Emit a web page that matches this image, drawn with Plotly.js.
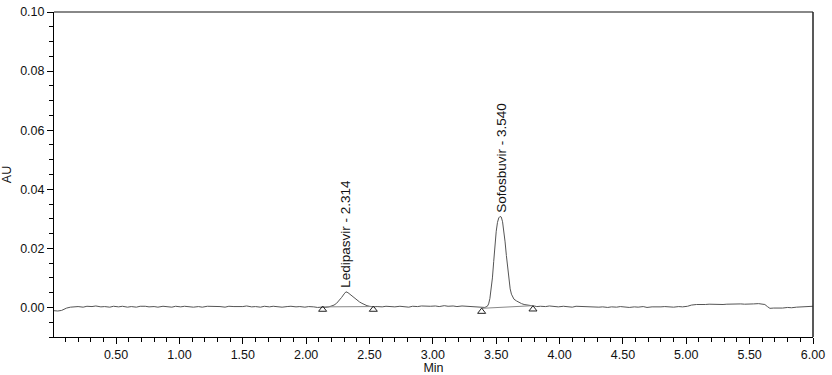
<!DOCTYPE html>
<html>
<head>
<meta charset="utf-8">
<script src="https://cdn.plot.ly/plotly-3.0.1.min.js"></script>
<style>html,body{margin:0;padding:0;background:#fff;}#chart{width:832px;height:375px;}</style>
</head>
<body>
<div id="chart"></div>
<script>
// Chromatogram signal (time in min, absorbance in AU)
const timeMin = [
  0.01,0.04,0.07,0.09,0.11,0.14,0.17,0.20,0.24,0.27,0.31,0.34,0.38,0.41,0.45,0.48,
  0.52,0.55,0.59,0.62,0.66,0.69,0.73,0.76,0.80,0.83,0.87,0.90,0.94,0.97,
  1.01,1.04,1.08,1.11,1.15,1.18,1.22,1.25,1.29,1.32,1.36,1.39,1.43,1.46,
  1.50,1.53,1.57,1.60,1.64,1.67,1.71,1.74,1.78,1.81,1.85,1.88,1.92,1.95,1.99,
  2.02,2.06,2.09,2.12,2.15,2.18,2.20,2.22,2.24,2.26,2.28,2.30,2.314,2.33,2.35,
  2.37,2.39,2.41,2.42,2.44,2.46,2.48,2.50,2.53,2.56,2.60,2.63,2.67,2.70,2.74,
  2.77,2.81,2.84,2.88,2.91,2.95,2.98,3.02,3.05,3.09,3.12,3.16,3.19,3.23,3.26,
  3.30,3.33,3.36,3.39,3.41,3.43,3.44,3.45,3.46,3.47,3.48,3.49,3.50,3.51,3.52,
  3.53,3.54,3.55,3.56,3.57,3.58,3.59,3.60,3.61,3.62,3.63,3.64,3.66,3.68,3.70,
  3.72,3.74,3.76,3.78,3.80,3.82,3.85,3.89,3.92,3.96,3.99,
  4.03,4.06,4.10,4.13,4.17,4.20,4.24,4.27,4.31,4.34,4.38,4.41,4.45,4.48,
  4.52,4.55,4.59,4.62,4.66,4.69,4.73,4.76,4.80,4.83,4.87,4.90,4.94,4.97,
  5.01,5.04,5.08,5.11,5.15,5.18,5.22,5.25,5.29,5.32,5.36,5.39,5.43,5.46,
  5.50,5.53,5.57,5.60,5.62,5.64,5.66,5.69,5.73,5.76,5.80,5.83,5.87,5.90,5.94,5.97,6.00
];
const absorbanceAU = [
  -0.0011,-0.0012,-0.0010,-0.0006,-0.0002,0.0001,0.0002,0.0003,0.0001,0.0004,0.0003,0.0005,0.0002,0.0003,0.0001,0.0004,
  0.0002,0.0004,0.0001,0.0003,0.0001,0.0004,0.0004,0.0002,0.0003,0.0001,0.0004,0.0003,0.0001,0.0004,
  0.0002,0.0004,0.0003,0.0001,0.0003,0.0001,0.0004,0.0004,0.0002,0.0003,0.0001,0.0004,0.0003,0.0002,
  0.0003,0.0005,0.0002,0.0003,0.0001,0.0004,0.0002,0.0004,0.0003,0.0001,0.0003,0.0004,0.0002,0.0003,0.0001,
  0.0003,0.0002,0.0000,0.0001,0.0000,0.0002,0.0004,0.0008,0.0014,0.0023,0.0034,0.0046,0.0053,0.0050,0.0043,
  0.0035,0.0028,0.0022,0.0019,0.0014,0.0009,0.0006,0.0004,0.0002,0.0003,0.0002,0.0004,0.0003,0.0002,0.0004,
  0.0003,0.0001,0.0004,0.0003,0.0005,0.0003,0.0004,0.0005,0.0003,0.0006,0.0004,0.0005,0.0003,0.0005,0.0004,
  0.0002,0.0003,0.0001,-0.0001,0.0000,0.0004,0.0012,0.0030,0.0058,0.0100,0.0155,0.0210,0.0258,0.0288,0.0303,
  0.0308,0.0306,0.0290,0.0262,0.0222,0.0176,0.0130,0.0092,0.0063,0.0045,0.0034,0.0028,0.0022,0.0017,0.0013,
  0.0010,0.0008,0.0007,0.0006,0.0005,0.0003,0.0004,0.0003,0.0005,0.0003,0.0002,
  0.0004,0.0003,0.0001,0.0004,0.0003,0.0002,0.0003,0.0001,0.0001,0.0002,0.0000,0.0002,0.0001,0.0003,
  0.0001,0.0000,0.0002,0.0001,0.0003,0.0000,0.0002,0.0001,0.0002,0.0003,0.0002,0.0001,0.0003,0.0002,
  0.0004,0.0008,0.0010,0.0009,0.0010,0.0011,0.0010,0.0011,0.0010,0.0011,0.0012,0.0011,0.0012,0.0011,
  0.0013,0.0012,0.0013,0.0012,0.0010,0.0003,-0.0003,-0.0002,-0.0003,-0.0002,0.0000,-0.0001,0.0001,0.0002,0.0003,0.0002,0.0004
];

// Integration baselines and their start/end markers
const peakNames = ["Ledipasvir", "Sofosbuvir"];
const peakRT = [2.314, 3.540];
const peakTop = [0.0053, 0.0308];
const baseStartT = [2.13, 3.385];
const baseEndT = [2.53, 3.79];
const baseStartY = [0.0002, -0.0003];
const baseEndY = [0.0003, 0.0006];
const markStartY = [-0.0007, -0.0014];
const markEndY = [-0.0007, -0.0006];

const traces = [{
  x: timeMin, y: absorbanceAU, type: 'scatter', mode: 'lines',
  line: {color: '#555555', width: 1}, hoverinfo: 'skip', showlegend: false
}];
for (let i = 0; i < peakNames.length; i++) {
  traces.push({
    x: [baseStartT[i], baseEndT[i]], y: [baseStartY[i], baseEndY[i]],
    type: 'scatter', mode: 'lines', line: {color: '#888888', width: 1}, showlegend: false
  });
  traces.push({
    x: [baseStartT[i], baseEndT[i]], y: [markStartY[i], markEndY[i]],
    type: 'scatter', mode: 'markers',
    marker: {symbol: 'triangle-up-open', size: 7, color: '#222222', line: {width: 1, color: '#222222'}},
    showlegend: false
  });
}

const annotations = peakNames.map((n, i) => ({
  x: peakRT[i], y: peakTop[i], xref: 'x', yref: 'y',
  text: n + ' - ' + peakRT[i].toFixed(3), textangle: -90, showarrow: false,
  xanchor: 'center', yanchor: 'bottom', yshift: 2,
  font: {family: 'Liberation Sans, Arial, sans-serif', size: 13.5, color: '#111111'}
}));

const fnt = {family: 'Liberation Sans, Arial, sans-serif', size: 12.5, color: '#111111'};
const layout = {
  width: 832, height: 375,
  margin: {l: 54, r: 19, t: 12, b: 38},
  paper_bgcolor: '#ffffff', plot_bgcolor: '#ffffff',
  font: fnt,
  showlegend: false,
  xaxis: {
    range: [0.01, 6.0], showline: true, linecolor: '#000', linewidth: 1,
    ticks: 'outside', ticklen: 6, tickcolor: '#000', tickwidth: 1,
    tick0: 0, dtick: 0.5, tickformat: '.2f', showgrid: false, zeroline: false,
    minor: {dtick: 0.1, tick0: 0, ticks: 'outside', ticklen: 4, tickcolor: '#000', showgrid: false},
    title: {text: 'Min', font: fnt, standoff: 7},
    tickfont: fnt
  },
  yaxis: {
    range: [-0.01, 0.10], showline: true, linecolor: '#000', linewidth: 1,
    ticks: 'outside', ticklen: 6, tickcolor: '#000', tickwidth: 1,
    tick0: 0, dtick: 0.02, tickformat: '.2f', showgrid: false, zeroline: false,
    minor: {dtick: 0.005, tick0: 0, ticks: 'outside', ticklen: 4, tickcolor: '#000', showgrid: false},
    title: {text: 'AU', font: fnt, standoff: 10},
    tickfont: fnt
  },
  shapes: [
    {type: 'line', xref: 'paper', yref: 'paper', x0: 0, x1: 1, y0: 1, y1: 1, line: {color: '#888888', width: 2}},
    {type: 'line', xref: 'paper', yref: 'paper', x0: 1, x1: 1, y0: 0, y1: 1, line: {color: '#222222', width: 1.5}}
  ],
  annotations: annotations
};
Plotly.newPlot('chart', traces, layout, {displayModeBar: false, staticPlot: true});
</script>
</body>
</html>
